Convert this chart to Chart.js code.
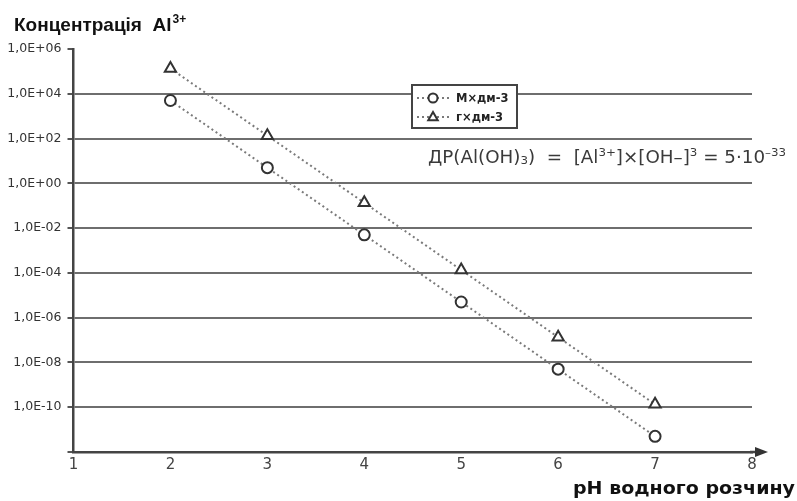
<!DOCTYPE html>
<html>
<head>
<meta charset="utf-8">
<script src="https://cdn.jsdelivr.net/npm/chart.js@4.4.1/dist/chart.umd.min.js"></script>
<style>
  html, body { margin: 0; padding: 0; background: #fff; }
  #wrap { width: 797px; height: 501px; position: relative; }
</style>
</head>
<body>
<div id="wrap"><canvas id="mainChart" width="797" height="501"></canvas></div>
<script>
// values
const phValues = [2, 3, 4, 5, 6, 7];
const molarConc = [5e3, 5, 5e-3, 5e-6, 5e-9, 5e-12];          // M x dm-3
const massConc = [1.35e5, 135, 0.135, 1.35e-4, 1.35e-7, 1.35e-10]; // g x dm-3
const seriesLabels = ['M×дм-3', 'г×дм-3'];
const yTickValues = [1e-12, 1e-10, 1e-8, 1e-6, 1e-4, 1e-2, 1, 1e2, 1e4, 1e6];
const yTickLabels = ['', '1,0E-10', '1,0E-08', '1,0E-06', '1,0E-04', '1,0E-02', '1,0E+00', '1,0E+02', '1,0E+04', '1,0E+06'];
const yTitle = ['Концентрація  Al', '3+'];
const xTitle = 'pH водного розчину';
// formula pieces: [text, kind]  kind: n = normal, sup, sub
const formula = [
    ['ДР(Al(OH)', 'n'], ['3', 'sub'], [')  =  [Al', 'n'], ['3+', 'sup'],
    [']×[OH–]', 'n'], ['3', 'sup'], [' = 5·10', 'n'], ['–33', 'sup']
];

const ctx = document.getElementById('mainChart');

function toPoints(ys) {
    return phValues.map((x, i) => ({ x: x, y: ys[i] }));
}

function marker(c, style, x, y, r) {
    c.beginPath();
    if (style === 'triangle') {
        c.moveTo(x, y - r);
        c.lineTo(x + r * 0.95, y + r * 0.65);
        c.lineTo(x - r * 0.95, y + r * 0.65);
        c.closePath();
    } else {
        c.arc(x, y, r, 0, Math.PI * 2);
    }
    c.fillStyle = '#fff';
    c.fill();
    c.lineWidth = 2;
    c.strokeStyle = '#333';
    c.stroke();
}

function fontFor(kind) {
    return kind === 'n' ? '17px "DejaVu Sans"' : '11px "DejaVu Sans"';
}

const extras = {
    id: 'extras',
    afterDraw(chart) {
        const c = chart.ctx;
        const area = chart.chartArea;
        c.save();

        // arrow on x axis
        c.strokeStyle = '#444';
        c.lineWidth = 2.5;
        c.beginPath();
        c.moveTo(area.right - 2, area.bottom);
        c.lineTo(760, area.bottom);
        c.stroke();
        c.fillStyle = '#333';
        c.beginPath();
        c.moveTo(768, area.bottom);
        c.lineTo(755, area.bottom - 5);
        c.lineTo(755, area.bottom + 5);
        c.closePath();
        c.fill();

        // y title
        c.fillStyle = '#111';
        c.textBaseline = 'alphabetic';
        c.font = 'bold 19px "Liberation Sans"';
        c.fillText(yTitle[0], 14, 31);
        let w = c.measureText(yTitle[0]).width;
        c.font = 'bold 12px "Liberation Sans"';
        c.fillText(yTitle[1], 14 + w + 1, 23);

        // x title, stretched
        c.font = 'bold 18px "DejaVu Sans"';
        const tw = c.measureText(xTitle).width;
        c.save();
        c.translate(573, 494);
        c.scale(222 / tw, 1);
        c.fillText(xTitle, 0, 0);
        c.restore();

        // formula, stretched to its width in the picture
        let total = 0;
        formula.forEach(([t, kind]) => {
            c.font = fontFor(kind);
            total += c.measureText(t).width;
        });
        c.save();
        c.translate(428, 163);
        c.scale(358 / total, 1);
        c.fillStyle = '#3a3a3a';
        let fx = 0;
        formula.forEach(([t, kind]) => {
            c.font = fontFor(kind);
            const dy = kind === 'sup' ? -7 : (kind === 'sub' ? 1 : 0);
            c.fillText(t, fx, dy);
            fx += c.measureText(t).width;
        });
        c.restore();

        // legend
        const bx = 412, by = 85, bw = 105, bh = 43;
        c.fillStyle = '#fff';
        c.fillRect(bx, by, bw, bh);
        c.strokeStyle = '#444';
        c.lineWidth = 2;
        c.strokeRect(bx, by, bw, bh);
        chart.data.datasets.forEach((ds, i) => {
            const ly = by + 13 + i * 19;
            c.strokeStyle = ds.borderColor;
            c.lineWidth = 2;
            c.setLineDash(ds.borderDash);
            c.beginPath();
            c.moveTo(bx + 5, ly);
            c.lineTo(bx + 38, ly);
            c.stroke();
            c.setLineDash([]);
            marker(c, ds.pointStyle, bx + 21, ly, ds.pointStyle === 'triangle' ? 5 : 4.5);
            c.fillStyle = '#222';
            c.font = 'bold 11.5px "DejaVu Sans"';
            c.textBaseline = 'middle';
            c.fillText(ds.label, bx + 44, ly + 1);
        });
        c.restore();
    }
};

new Chart(ctx, {
    type: 'scatter',
    data: {
        datasets: [
            {
                label: seriesLabels[0],
                data: toPoints(molarConc),
                showLine: true,
                borderColor: '#7a7a7a',
                borderWidth: 2,
                borderDash: [2, 3],
                pointStyle: 'circle',
                pointRadius: 5.5,
                pointBorderColor: '#333',
                pointBackgroundColor: '#fff',
                pointBorderWidth: 2
            },
            {
                label: seriesLabels[1],
                data: toPoints(massConc),
                showLine: true,
                borderColor: '#7a7a7a',
                borderWidth: 2,
                borderDash: [2, 3],
                pointStyle: 'triangle',
                pointRadius: 6.5,
                pointBorderColor: '#333',
                pointBackgroundColor: '#fff',
                pointBorderWidth: 2
            }
        ]
    },
    options: {
        responsive: false,
        animation: false,
        layout: { padding: { left: 0, right: 45, top: 49, bottom: 0 } },
        plugins: {
            legend: { display: false },
            title: { display: false },
            tooltip: { enabled: false }
        },
        scales: {
            x: {
                type: 'linear',
                min: 1,
                max: 8,
                ticks: { stepSize: 1, color: '#444', font: { family: 'DejaVu Sans', size: 15 }, padding: 4 },
                grid: { drawOnChartArea: false, drawTicks: false },
                border: { color: '#444', width: 2.5 },
                afterFit: s => { s.height = 49; }
            },
            y: {
                type: 'logarithmic',
                min: 1e-12,
                max: 1e6,
                afterBuildTicks: s => { s.ticks = yTickValues.map(v => ({ value: v })); },
                ticks: {
                    color: '#333',
                    font: { family: 'DejaVu Sans', size: 12.5 },
                    padding: 6,
                    autoSkip: false,
                    callback: v => yTickLabels[yTickValues.findIndex(t => Math.abs(Math.log10(t) - Math.log10(v)) < 0.01)]
                },
                grid: {
                    color: c => (c.tick && (c.tick.value === 1e6 || c.tick.value === 1e-12)) ? 'rgba(0,0,0,0)' : '#6e6e6e',
                    lineWidth: 2,
                    tickColor: '#555',
                    tickLength: 6
                },
                border: { color: '#444', width: 2.5 },
                afterFit: s => { s.width = 73.5; }
            }
        }
    },
    plugins: [extras]
});
</script>
</body>
</html>
